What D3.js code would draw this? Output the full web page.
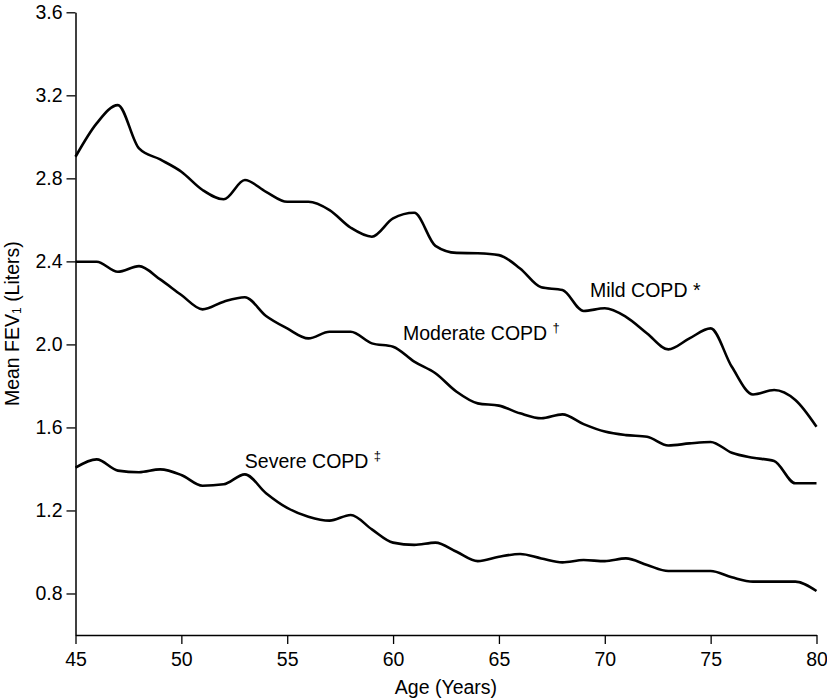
<!DOCTYPE html>
<html>
<head>
<meta charset="utf-8">
<script src="https://cdn.jsdelivr.net/npm/d3@7"></script>
<style>
  html, body { margin: 0; padding: 0; background: #fff; }
  svg { display: block; font-family: "Liberation Sans", Arial, Helvetica, sans-serif; }
</style>
</head>
<body>
<svg id="chart" width="827" height="700"></svg>
<script>
const ages = d3.range(45, 81);
const mild = [2.904, 3.065, 3.153, 2.944, 2.891, 2.832, 2.744, 2.699, 2.792, 2.735,
  2.687, 2.687, 2.647, 2.562, 2.519, 2.607, 2.634, 2.475, 2.441, 2.439,
  2.430, 2.366, 2.275, 2.262, 2.161, 2.174, 2.133, 2.053, 1.976, 2.029,
  2.077, 1.892, 1.759, 1.780, 1.732, 1.603];
const moderate = [2.398, 2.398, 2.350, 2.377, 2.313, 2.238, 2.169, 2.206, 2.227, 2.137,
  2.077, 2.029, 2.061, 2.061, 2.005, 1.989, 1.917, 1.861, 1.772, 1.716,
  1.705, 1.668, 1.644, 1.663, 1.616, 1.580, 1.563, 1.555, 1.513, 1.523,
  1.530, 1.478, 1.454, 1.438, 1.331, 1.331];
const severe = [1.406, 1.446, 1.392, 1.384, 1.398, 1.371, 1.319, 1.326, 1.374, 1.283,
  1.212, 1.170, 1.151, 1.178, 1.109, 1.045, 1.034, 1.045, 1.001, 0.956,
  0.977, 0.990, 0.969, 0.950, 0.961, 0.956, 0.969, 0.937, 0.908, 0.908,
  0.908, 0.878, 0.857, 0.857, 0.857, 0.812];
const xTicks = [45, 50, 55, 60, 65, 70, 75, 80];
const yTicks = [0.8, 1.2, 1.6, 2.0, 2.4, 2.8, 3.2, 3.6];
const seriesNames = ["Mild COPD", "Moderate COPD", "Severe COPD"];
const seriesMarks = ["*", "†", "‡"];
const labelAges = [69.3, 60.47, 53.0];
const labelValues = [2.228, 2.021, 1.404];

const svg = d3.select("#chart");
const W = 827, H = 700;
const margin = { left: 75.5, right: 10.5, top: 12.3, bottom: 65 };

const x = d3.scaleLinear().domain([45, 80]).range([margin.left, W - margin.right]);
const y = d3.scaleLinear().domain([0.6, 3.6]).range([H - margin.bottom, margin.top]);

const fontSize = 19.5;

// Y axis
const yAxis = svg.append("g")
  .attr("transform", `translate(${margin.left},0)`)
  .call(d3.axisLeft(y).tickValues(yTicks).tickFormat(d3.format(".1f")).tickSize(9).tickSizeOuter(0).tickPadding(4));
// X axis
const xAxis = svg.append("g")
  .attr("transform", `translate(0,${H - margin.bottom})`)
  .call(d3.axisBottom(x).tickValues(xTicks).tickFormat(d3.format("d")).tickSize(9).tickSizeOuter(0).tickPadding(8));

[yAxis, xAxis].forEach(g => {
  g.selectAll("path.domain").attr("stroke", "#000").attr("stroke-width", 1.5);
  g.selectAll(".tick line").attr("stroke", "#000").attr("stroke-width", 1.3);
  g.selectAll(".tick text").attr("fill", "#000").style("font-size", fontSize + "px")
    .style("font-family", "'Liberation Sans', Arial, Helvetica, sans-serif");
});

// Axis titles
svg.append("text")
  .attr("x", (x.range()[0] + x.range()[1]) / 2)
  .attr("y", 694)
  .attr("text-anchor", "middle")
  .style("font-size", fontSize + "px")
  .text("Age (Years)");

const yt = svg.append("text")
  .attr("transform", `translate(18.5,${(y.range()[0] + y.range()[1]) / 2}) rotate(-90)`)
  .attr("text-anchor", "middle")
  .style("font-size", fontSize + "px");
yt.append("tspan").text("Mean FEV");
yt.append("tspan").attr("dy", 2).style("font-size", "12px").text("1");
yt.append("tspan").attr("dy", -2).text(" (Liters)");

// Lines
const allSeries = [mild, moderate, severe];
const line = d3.line()
  .x((d, i) => x(ages[i]))
  .y(d => y(d))
  .curve(d3.curveMonotoneX);

svg.append("g").selectAll("path")
  .data(allSeries)
  .join("path")
  .attr("d", d => line(d))
  .attr("fill", "none")
  .attr("stroke", "#000")
  .attr("stroke-width", 2.6)
  .attr("stroke-linejoin", "round");

// Labels
seriesNames.forEach((name, i) => {
  const t = svg.append("text")
    .attr("x", x(labelAges[i]))
    .attr("y", y(labelValues[i]))
    .style("font-size", fontSize + "px");
  if (i === 0) {
    t.text(name + " " + seriesMarks[i]);
  } else {
    t.append("tspan").text(name + " ");
    t.append("tspan").attr("dy", -8).style("font-size", "13px").text(seriesMarks[i]);
  }
});
</script>
</body>
</html>
